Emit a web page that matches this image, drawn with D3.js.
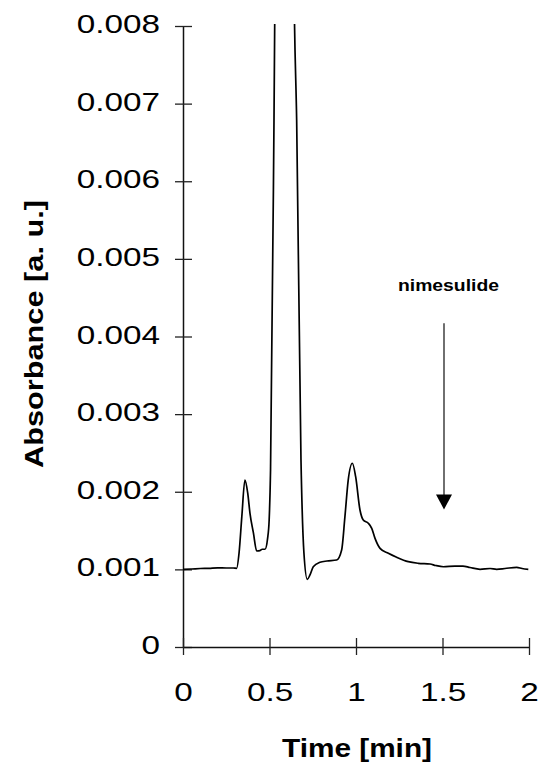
<!DOCTYPE html>
<html>
<head>
<meta charset="utf-8">
<script src="https://cdn.jsdelivr.net/npm/d3@7/dist/d3.min.js"></script>
<style>
  html, body { margin: 0; padding: 0; background: #fff; }
  svg { display: block; }
</style>
</head>
<body>
<svg id="chart" width="539" height="762"></svg>
<script>
// ---- data (time in min, absorbance in a.u.) ----
const time = [0, 0.05, 0.10, 0.15, 0.20, 0.25, 0.29, 0.31, 0.324, 0.34, 0.358, 0.374, 0.387, 0.407, 0.426,
  0.445, 0.458, 0.474, 0.489, 0.498, 0.506, 0.526, 0.55, 0.59, 0.62, 0.6445, 0.657, 0.682, 0.699,
  0.7185, 0.734, 0.753, 0.792, 0.832, 0.888, 0.917, 0.936, 0.955, 0.979, 0.998, 1.023, 1.042, 1.071,
  1.091, 1.110, 1.139, 1.187, 1.235, 1.302, 1.360, 1.428, 1.46, 1.505, 1.572, 1.618, 1.659, 1.717,
  1.775, 1.813, 1.861, 1.929, 1.96, 1.996];
const absorbance = [0.00100, 0.001005, 0.001011, 0.001014, 0.001020, 0.001018, 0.001018, 0.001014, 0.001211,
  0.001679, 0.002151, 0.001984, 0.001726, 0.001469, 0.001237, 0.001241, 0.001259, 0.001259, 0.001400,
  0.001636, 0.00228, 0.00679, 0.0140, 0.0200, 0.0140, 0.00805, 0.00679, 0.00241, 0.001211,
  0.000872, 0.000928, 0.001034, 0.001091, 0.001108, 0.001121, 0.00125, 0.001679, 0.002151, 0.002367,
  0.002194, 0.001765, 0.001636, 0.001594, 0.001529, 0.001400, 0.001271, 0.001207, 0.001156, 0.001099,
  0.001078, 0.001069, 0.00105, 0.001034, 0.001043, 0.001043, 0.001024, 0.001001, 0.001011, 0.001001,
  0.001011, 0.001027, 0.001011, 0.001001];
const xTicks = [0, 0.5, 1, 1.5, 2];
const xTickLabels = ["0", "0.5", "1", "1.5", "2"];
const yTicks = [0, 0.001, 0.002, 0.003, 0.004, 0.005, 0.006, 0.007, 0.008];
const yTickLabels = ["0", "0.001", "0.002", "0.003", "0.004", "0.005", "0.006", "0.007", "0.008"];
const xTitle = "Time [min]";
const yTitle = "Absorbance [a. u.]";
const annotationText = "nimesulide";
const annotationTime = 1.5;
const annotationFrom = 0.00417;
const annotationTo = 0.00177;

// ---- layout ----
const svg = d3.select("#chart");
const x = d3.scaleLinear().domain([0, 2]).range([183, 529]);
const y = d3.scaleLinear().domain([0, 0.008]).range([647, 26]);
const tickFont = "'Liberation Sans', Arial, sans-serif";
const stretch = 1.28;

function stretchText(sel, factor) {
  sel.each(function () {
    const len = this.getComputedTextLength();
    d3.select(this).attr("textLength", len * factor).attr("lengthAdjust", "spacingAndGlyphs");
  });
}

// clip
svg.append("defs").append("clipPath").attr("id", "plotclip")
  .append("rect").attr("x", 183).attr("y", 24).attr("width", 350).attr("height", 640);

// y axis
const yAxis = svg.append("g").attr("transform", `translate(${x(0)},0)`)
  .call(d3.axisLeft(y).tickValues(yTicks).tickFormat((d, i) => yTickLabels[i]).tickSize(0).tickPadding(0));
yAxis.select(".domain").attr("stroke", "#111").attr("stroke-width", 1.5);
yAxis.selectAll(".tick line").attr("x1", -8).attr("x2", 9).attr("stroke", "#222").attr("stroke-width", 1.3);
yAxis.selectAll(".tick text")
  .attr("x", -23).attr("dy", null).attr("y", 6.5)
  .attr("font-family", tickFont).attr("font-size", 26).attr("fill", "#000")
  .call(stretchText, stretch);

// x axis
const xAxis = svg.append("g").attr("transform", `translate(0,${y(0)})`)
  .call(d3.axisBottom(x).tickValues(xTicks).tickFormat((d, i) => xTickLabels[i]).tickSize(0).tickPadding(0));
xAxis.select(".domain").attr("stroke", "#111").attr("stroke-width", 1.5);
xAxis.selectAll(".tick line").attr("y1", -9).attr("y2", 8).attr("stroke", "#222").attr("stroke-width", 1.3);
xAxis.selectAll(".tick text")
  .attr("y", 53.5).attr("dy", null)
  .attr("font-family", tickFont).attr("font-size", 26).attr("fill", "#000")
  .call(stretchText, stretch);

// titles
svg.append("text")
  .attr("x", (x(0) + x(2)) / 2 + 1).attr("y", 757)
  .attr("text-anchor", "middle")
  .attr("font-family", tickFont).attr("font-weight", "bold").attr("font-size", 26)
  .attr("textLength", 150).attr("lengthAdjust", "spacingAndGlyphs")
  .text(xTitle);

svg.append("text")
  .attr("transform", "translate(43,334) rotate(-90)")
  .attr("text-anchor", "middle")
  .attr("font-family", tickFont).attr("font-weight", "bold").attr("font-size", 26)
  .attr("textLength", 268).attr("lengthAdjust", "spacingAndGlyphs")
  .text(yTitle);

// curve
const data = time.map((t, i) => ({ t, a: absorbance[i] }));
const line = d3.line().x(d => x(d.t)).y(d => y(d.a)).curve(d3.curveMonotoneX);
svg.append("path")
  .datum(data)
  .attr("clip-path", "url(#plotclip)")
  .attr("d", line)
  .attr("fill", "none").attr("stroke", "#000").attr("stroke-width", 1.7)
  .attr("stroke-linejoin", "round");

// annotation arrow
const ax = x(annotationTime) + 1.5;
const yTop = y(annotationFrom), yTip = y(annotationTo);
svg.append("line")
  .attr("x1", ax).attr("x2", ax).attr("y1", yTop).attr("y2", yTip - 14)
  .attr("stroke", "#333").attr("stroke-width", 1.4);
svg.append("path")
  .attr("d", `M${ax - 8},${yTip - 15} L${ax + 8},${yTip - 15} L${ax},${yTip} Z`)
  .attr("fill", "#000");
svg.append("text")
  .attr("x", ax + 4.5).attr("y", yTop - 32)
  .attr("text-anchor", "middle")
  .attr("font-family", tickFont).attr("font-weight", "bold").attr("font-size", 17)
  .attr("textLength", 101).attr("lengthAdjust", "spacingAndGlyphs")
  .text(annotationText);
</script>
</body>
</html>
